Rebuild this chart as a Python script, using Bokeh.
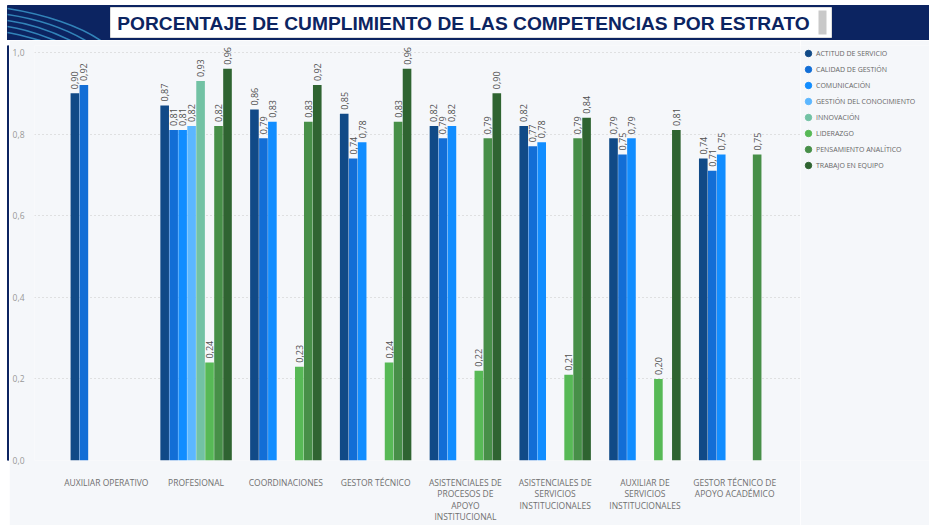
import numpy as np
from bokeh.plotting import figure
from bokeh.models import Range1d, FixedTicker, Legend, LegendItem, ColumnDataSource
from bokeh.layouts import column, row
from bokeh.embed import file_html
from bokeh.resources import INLINE
from bokeh.core.properties import value

# ---------------- data ----------------
title_text = "PORCENTAJE DE CUMPLIMIENTO DE LAS COMPETENCIAS POR ESTRATO"
categories = [
    "AUXILIAR OPERATIVO",
    "PROFESIONAL",
    "COORDINACIONES",
    "GESTOR TÉCNICO",
    "ASISTENCIALES DE\nPROCESOS DE\nAPOYO\nINSTITUCIONAL",
    "ASISTENCIALES DE\nSERVICIOS\nINSTITUCIONALES",
    "AUXILIAR DE\nSERVICIOS\nINSTITUCIONALES",
    "GESTOR TÉCNICO DE\nAPOYO ACADÉMICO",
]
series_names = [
    "ACTITUD DE SERVICIO",
    "CALIDAD DE GESTIÓN",
    "COMUNICACIÓN",
    "GESTIÓN DEL CONOCIMIENTO",
    "INNOVACIÓN",
    "LIDERAZGO",
    "PENSAMIENTO ANALÍTICO",
    "TRABAJO EN EQUIPO",
]
N = None
actitud_servicio = [0.90, 0.87, 0.86, 0.85, 0.82, 0.82, 0.79, 0.74]
calidad_gestion = [0.92, 0.81, 0.79, 0.74, 0.79, 0.77, 0.75, 0.71]
comunicacion = [N, 0.81, 0.83, 0.78, 0.82, 0.78, 0.79, 0.75]
gestion_conocimiento = [N, 0.82, N, N, N, N, N, N]
innovacion = [N, 0.93, N, N, N, N, N, N]
liderazgo = [N, 0.24, 0.23, 0.24, 0.22, 0.21, 0.20, N]
pensamiento_analitico = [N, 0.82, 0.83, 0.83, 0.79, 0.79, N, 0.75]
trabajo_equipo = [N, 0.96, 0.92, 0.96, 0.90, 0.84, 0.81, N]
y_ticks = [0.0, 0.2, 0.4, 0.6, 0.8, 1.0]
y_tick_labels = ["0,0", "0,2", "0,4", "0,6", "0,8", "1,0"]

series_values = [actitud_servicio, calidad_gestion, comunicacion, gestion_conocimiento,
                 innovacion, liderazgo, pensamiento_analitico, trabajo_equipo]
colors = ["#114A87", "#126ED6", "#118DFF", "#5CB7FF", "#72C2A4", "#57B956", "#478F48", "#2F6431"]

NAVY = "#0C2461"
PANEL = "#F5F7FA"
W = 929
H_MAIN = 485


def blank(width, height, xr, yr, bg="white"):
    fig = figure(width=width, height=height, x_range=Range1d(*xr), y_range=Range1d(*yr),
                 toolbar_location=None, output_backend="svg", min_border=0,
                 x_axis_location=None, y_axis_location=None, outline_line_color=None,
                 background_fill_color=bg, border_fill_color=bg)
    fig.grid.visible = False
    return fig


# ---------------- header ----------------
h = blank(W, 40, (0, W), (40, 0))
h.quad(left=7, right=W, top=5, bottom=40, color=NAVY)
h.bezier(x0=[7, 7, 7, 7, 7], y0=[8, 14, 20, 26, 32],
         x1=[100, 85, 70, 55, 40], y1=[40, 40, 40, 40, 40],
         cx0=[45, 40, 35, 28, 20], cy0=[14, 19, 24, 29, 34],
         cx1=[80, 68, 56, 44, 32], cy1=[26, 30, 33, 36, 38],
         line_color="#3FA3D6", line_alpha=0.75, line_width=1.6)
h.quad(left=110, right=831, top=7, bottom=37, fill_color="white", line_color="#DDDDDD")
h.quad(left=818, right=826, top=10, bottom=34, fill_color="#C9C9C9", line_color=None)
h.text(x=[463], y=[23], text=[title_text], text_align="center", text_baseline="middle",
       text_font=value("Liberation Sans"), text_font_style="bold", text_font_size="19.2px",
       text_color=NAVY)

# ---------------- left strip ----------------
s = blank(9, H_MAIN, (0, 9), (H_MAIN, 0))
s.quad(left=7, right=9, top=0, bottom=H_MAIN, color=NAVY)

# ---------------- main chart ----------------
p = figure(width=791, height=H_MAIN, x_range=Range1d(-0.300, 8.233), y_range=Range1d(0, 1.017),
           toolbar_location=None, output_backend="svg",
           min_border_left=23, min_border_right=0, min_border_top=5, min_border_bottom=57,
           background_fill_color=PANEL, border_fill_color=PANEL, outline_line_color=None)
p.xgrid.visible = False
p.ygrid.grid_line_color = "#C8C8C8"
p.ygrid.grid_line_dash = "1 3"
p.yaxis.ticker = FixedTicker(ticks=y_ticks)
p.yaxis.major_label_overrides = {t: l for t, l in zip(y_ticks, y_tick_labels)}
xc = [i + 0.5 for i in range(len(categories))]
p.xaxis.ticker = FixedTicker(ticks=xc)
p.xaxis.major_label_overrides = {x: c for x, c in zip(xc, categories)}
for ax in (p.xaxis, p.yaxis):
    ax.axis_line_color = None
    ax.major_tick_line_color = None
    ax.minor_tick_line_color = None
    ax.major_label_text_font = "Open Sans"
p.yaxis.major_label_text_font_size = "8.5px"
p.yaxis.major_label_text_color = "#999999"
p.yaxis.major_label_standoff = 4
p.xaxis.major_label_text_font_size = "8.5px"
p.xaxis.major_label_text_color = "#707070"
p.xaxis.major_label_standoff = 10
p.xaxis.major_label_text_line_height = 1.05

BW = 0.1
nser = len(series_names)
for j, (name, vals, col) in enumerate(zip(series_names, series_values, colors)):
    xs, ys, labs = [], [], []
    for i, v in enumerate(vals):
        if v is None:
            continue
        xs.append(xc[i] + (j - (nser - 1) / 2) * BW)
        ys.append(v)
        labs.append(f"{v:.2f}".replace(".", ","))
    src = ColumnDataSource(dict(x=xs, top=ys, lab=labs))
    p.vbar(x="x", top="top", bottom=0, width=BW * 0.96, source=src,
           fill_color=col, line_color=None)
    p.text(x="x", y="top", text="lab", source=src, angle=np.pi / 2,
           text_align="left", text_baseline="middle", y_offset=-4,
           text_font=value("Open Sans"), text_font_size="9px", text_color="#505050")

# ---------------- legend panel ----------------
lg = blank(129, H_MAIN, (0, 1), (0, 1), bg=PANEL)
lg.min_border_top = 3
items = []
for name, col in zip(series_names, colors):
    # legend handle only: a point placed outside the visible range
    r = lg.scatter(x=[-5], y=[-5], marker="circle", size=7, fill_color=col, line_color=col)
    items.append(LegendItem(label=name, renderers=[r]))
legend = Legend(items=items, location="top_left", orientation="vertical",
                label_text_font="Open Sans", label_text_font_size="7px",
                label_text_color="#666666", glyph_width=16, glyph_height=16,
                label_height=16, label_standoff=-2, spacing=0, padding=5, margin=0,
                background_fill_alpha=0, border_line_color=None)
lg.add_layout(legend)

layout = column(h, row(s, p, lg))
open("out.html", "w").write(file_html(layout, INLINE))
